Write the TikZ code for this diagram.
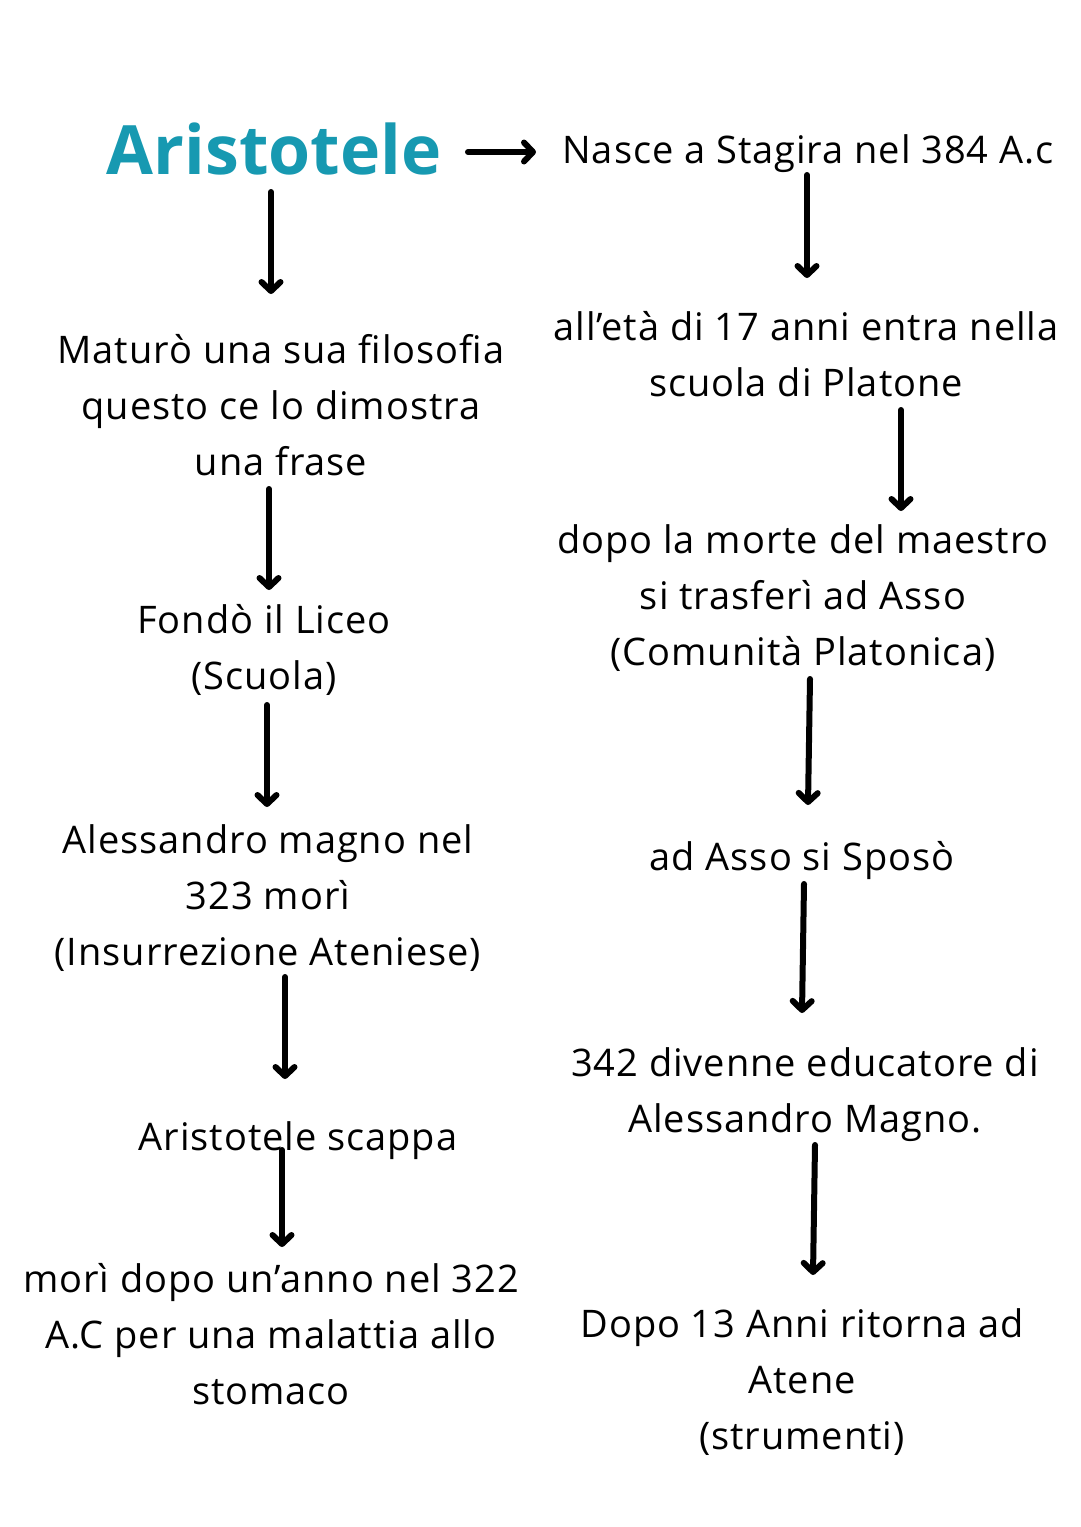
\documentclass[tikz,border=0pt]{standalone}
\usepackage{fontspec}
\setmainfont{Open Sans}
\newfontfamily\bodyfont[LetterSpace=2.5]{Open Sans}
\usetikzlibrary{arrows.meta}
\definecolor{teal1}{HTML}{1799B1}
\begin{document}
\begin{tikzpicture}[x=1pt,y=-1pt,
  txt/.style={inner sep=0pt,align=center,anchor=north,font=\bodyfont\fontsize{38}{56}\selectfont},
  ttl/.style={inner sep=0pt,anchor=base,text=teal1,font=\fontsize{68}{80}\selectfont\bfseries},
  arr/.style={line width=6pt,line cap=round,-{Straight Barb[length=9pt,width=19pt,line width=6pt,line cap=round,line join=round]}}]
\useasboundingbox[fill=white] (0,0) rectangle (1080,1527);
% left column
\node[ttl] (ari) at (274,174) {Aristotele};
\node[txt] (mat) at (281,334) {Maturò una sua filosofia\\questo ce lo dimostra\\una frase};
\node[txt] (fon) at (264,604) {Fondò il Liceo\\(Scuola)};
\node[txt] (ale) at (268,824) {Alessandro magno nel\\323 morì\\(Insurrezione Ateniese)};
\node[txt] (sca) at (298,1121) {Aristotele scappa};
\node[txt] (mor) at (271,1263) {morì dopo un’anno nel 322\\A.C per una malattia allo\\stomaco};
% right column
\node[txt] (nas) at (808,134) {Nasce a Stagira nel 384 A.c};
\node[txt] (eta) at (806,311) {all’età di 17 anni entra nella\\scuola di Platone};
\node[txt] (dop) at (803,524) {dopo la morte del maestro\\si trasferì ad Asso\\(Comunità Platonica)};
\node[txt] (spo) at (802,841) {ad Asso si Sposò};
\node[txt] (edu) at (805,1047) {342 divenne educatore di\\Alessandro Magno.};
\node[txt] (rit) at (802,1308) {Dopo 13 Anni ritorna ad\\Atene\\(strumenti)};
% arrow end points
\coordinate (h1) at (468,152); \coordinate (h2) at (536,152);
\coordinate (a1) at (271,192); \coordinate (a2) at (271,294);
\coordinate (b1) at (269,489); \coordinate (b2) at (269,590);
\coordinate (c1) at (267,705); \coordinate (c2) at (267,807);
\coordinate (d1) at (285,977); \coordinate (d2) at (285,1079);
\coordinate (e1) at (282,1150); \coordinate (e2) at (282,1247);
\coordinate (f1) at (807,175); \coordinate (f2) at (807,278);
\coordinate (g1) at (901,410); \coordinate (g2) at (901,511);
\coordinate (i1) at (810,679); \coordinate (i2) at (808,805);
\coordinate (j1) at (804,884); \coordinate (j2) at (802,1013);
\coordinate (k1) at (815,1145); \coordinate (k2) at (813,1275);
\draw[arr] (h1) -- (h2);
\draw[arr] (a1) -- (a2);
\draw[arr] (b1) -- (b2);
\draw[arr] (c1) -- (c2);
\draw[arr] (d1) -- (d2);
\draw[arr] (e1) -- (e2);
\draw[arr] (f1) -- (f2);
\draw[arr] (g1) -- (g2);
\draw[arr] (i1) -- (i2);
\draw[arr] (j1) -- (j2);
\draw[arr] (k1) -- (k2);
\end{tikzpicture}
\end{document}
